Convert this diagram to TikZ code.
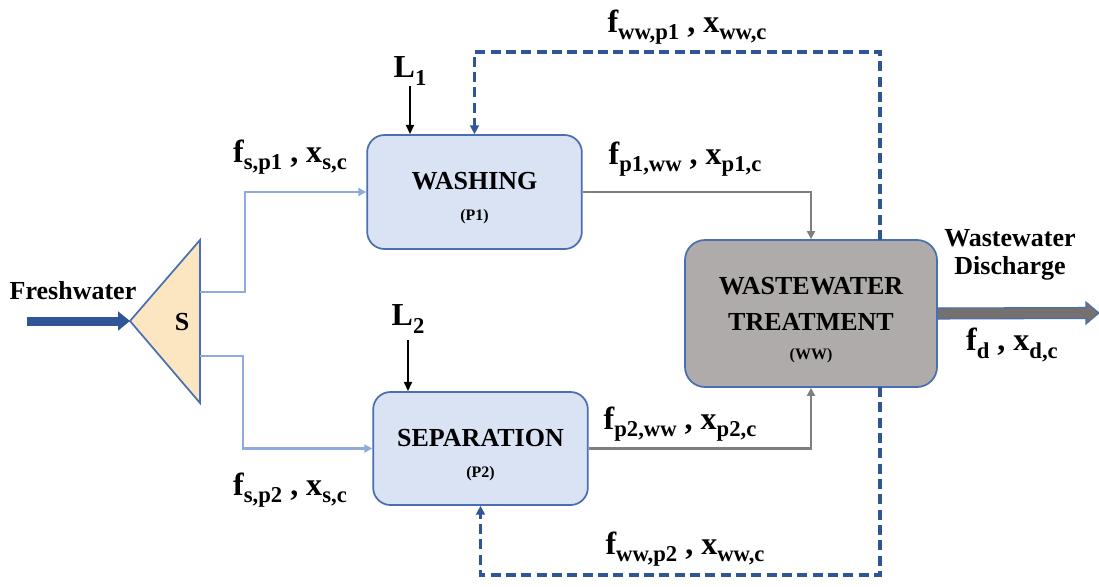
\documentclass[tikz,border=0pt]{standalone}
\usepackage{fontspec}
\setmainfont{Liberation Serif}
\usetikzlibrary{arrows.meta,calc}
\definecolor{boxfill}{HTML}{DAE3F3}
\definecolor{boxline}{HTML}{4A6FB0}
\definecolor{wwfill}{HTML}{AFABAB}
\definecolor{trifill}{HTML}{FCE6C2}
\definecolor{lightln}{HTML}{8FAADC}
\definecolor{darkbl}{HTML}{2F5597}
\definecolor{grayln}{HTML}{7F7F7F}
\definecolor{dischg}{HTML}{767171}
\newcommand{\lsub}[1]{\raisebox{-0.5ex}{\fontsize{17}{17}\selectfont #1}}
\tikzset{
  procbox/.style={draw=boxline, line width=1.3pt, fill=boxfill, rounded corners=13pt, align=center},
  wwbox/.style={draw=boxline, line width=1.3pt, fill=wwfill, rounded corners=15pt, align=center},
  lbl/.style={font=\bfseries\fontsize{19.5}{22}\selectfont, inner sep=0pt},
  flbl/.style={font=\bfseries\fontsize{24}{26}\selectfont, inner sep=0pt},
  boxtxt/.style={font=\bfseries\fontsize{19.5}{22}\selectfont, inner sep=0pt},
  boxsub/.style={font=\bfseries\fontsize{12}{13}\selectfont, inner sep=0pt},
  feed/.style={draw=lightln, line width=2pt, -{Triangle[length=6pt,width=6pt]}},
  outflow/.style={draw=grayln, line width=2.2pt, -{Triangle[length=6pt,width=6pt]}},
  recyc/.style={draw=darkbl, line width=2.3pt, dash pattern=on 7.5pt off 4pt, -{Triangle[length=6.5pt,width=6.5pt]}},
  load/.style={draw=black, line width=1.6pt, -{Triangle[length=7pt,width=6pt]}}
}
\begin{document}
\begin{tikzpicture}[x=0.75pt,y=-0.75pt]
\useasboundingbox (0,0) rectangle (1099,586);
% boxes
\node[procbox, minimum width=161pt, minimum height=85.5pt] (wash) at (474.5,192) {};
\node[boxtxt] (washt) at (474.5,181) {WASHING};
\node[boxsub] (washp) at (474.5,217) {(P1)};
\node[procbox, minimum width=161pt, minimum height=84.75pt] (sep) at (480.5,448.5) {};
\node[boxtxt] (sept) at (480.5,438) {SEPARATION};
\node[boxsub] (sepp) at (480.5,474) {(P2)};
\node[wwbox, minimum width=189pt, minimum height=110.25pt] (ww) at (811,313.5) {};
\node[boxtxt] (wwt1) at (811,286) {WASTEWATER};
\node[boxtxt] (wwt2) at (811,322) {TREATMENT};
\node[boxsub] (wwp) at (811,356) {(WW)};
% splitter
\filldraw[fill=trifill, draw=boxline, line width=1.3pt] (130,321) -- (200,240) -- (200,403) -- cycle;
\node[lbl] (slbl) at (182,322) {S};
\coordinate (stip) at (130,321);
\coordinate (s1) at (200,292);
\coordinate (s2) at (200,356);
\coordinate (fwstart) at (27,321);
% freshwater
\node[lbl] (fw) at (73,291) {Freshwater};
\draw[darkbl, line width=6.75pt, -{Triangle[length=9pt,width=14pt]}] (fwstart) -- (stip);
% feeds
\draw[feed] (s1) -- (245,292) -- (245,192) -- (wash.west);
\draw[feed] (s2) -- (243,356) -- (243,448.5) -- (sep.west);
% loads
\node[flbl] (L1) at (410,71) {L\lsub{1}};
\node[flbl] (L2) at (408,319) {L\lsub{2}};
\coordinate (l1a) at (410,86);
\coordinate (l2a) at (408,340);
\draw[load] (l1a) -- (l1a |- wash.north);
\draw[load] (l2a) -- (l2a |- sep.north);
% outflows
\draw[outflow] (wash.east) -| (ww.north);
\draw[outflow] (sep.east) -| (ww.south);
% recycles
\coordinate (wwr1) at (880,240);
\coordinate (wwr2) at (880,387);
\draw[recyc] (wwr1) -- (880,52) -| (wash.north);
\draw[recyc] (wwr2) -- (880,575) -| (sep.south);
% discharge
\coordinate (dend) at (1099,313);
\filldraw[fill=dischg, draw=boxline, line width=0.8pt]
  ($(ww.east)+(0,-5.5)$) -- (1086,307.5) -- (1086,302) -- (dend) -- (1086,324) -- (1086,318.5) -- ($(ww.east)+(0,5.5)$) -- cycle;
\node[lbl, align=center] (dlbl) at (1010,255) {Wastewater\\[-1pt]Discharge};
% flow labels
\node[flbl] (fsp1) at (290,157) {f\lsub{s,p1} , x\lsub{s,c}};
\node[flbl] (fsp2) at (290,490) {f\lsub{s,p2} , x\lsub{s,c}};
\node[flbl] (fp1) at (685,159) {f\lsub{p1,ww} , x\lsub{p1,c}};
\node[flbl] (fp2) at (680,424) {f\lsub{p2,ww} , x\lsub{p2,c}};
\node[flbl] (fw1) at (687,27) {f\lsub{ww,p1} , x\lsub{ww,c}};
\node[flbl] (fw2) at (685,549) {f\lsub{ww,p2} , x\lsub{ww,c}};
\node[flbl] (fd) at (1012,345) {f\lsub{d} , x\lsub{d,c}};
\end{tikzpicture}
\end{document}
